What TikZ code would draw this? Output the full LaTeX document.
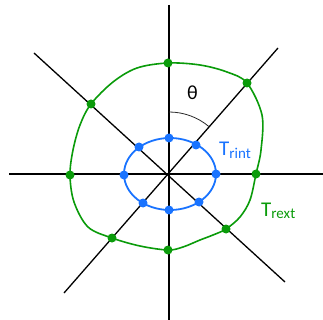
\documentclass[tikz,border=0pt]{standalone}
\usepackage{fontspec}
\setmainfont{Carlito}
\definecolor{grn}{RGB}{10,155,10}
\definecolor{blu}{RGB}{25,115,255}
\definecolor{arcgray}{RGB}{40,40,40}
\tikzset{
  gdot/.style={circle,fill=grn,inner sep=0pt,minimum size=9pt},
  bdot/.style={circle,fill=blu,inner sep=0pt,minimum size=9pt},
  axis/.style={line width=2pt,black},
  diag/.style={line width=1.3pt,black},
  lbl/.style={inner sep=0pt,anchor=base west},
}
\newcommand{\subtxt}[1]{\raisebox{-0.12em}{\fontsize{15pt}{15pt}\selectfont #1}}
\begin{document}
\begin{tikzpicture}[x=1pt,y=-1pt]
\useasboundingbox (0,0) rectangle (323,320);
% axes
\coordinate (vt) at (169,5);
\coordinate (vb) at (169,320);
\coordinate (hl) at (9,174);
\coordinate (hr) at (323,174);
\coordinate (ne) at (278,48);
\coordinate (sw) at (64,293);
\coordinate (nw) at (34,53);
\coordinate (se) at (285,282);
\draw[axis] (vt) -- (vb);
\draw[axis] (hl) -- (hr);
\draw[diag] (sw) -- (ne);
\draw[diag] (nw) -- (se);
% theta arc
\draw[arcgray,line width=0.8pt] (169,112) arc[start angle=90,end angle=50,radius=62pt];
% blue ellipse
\draw[blu,line width=1.8pt] (170,174) ellipse [x radius=46pt,y radius=36pt];
% green curve
\draw[grn,line width=1.6pt] plot[smooth cycle,tension=0.55] coordinates {
 (168,63) (200,65) (227,72) (247,83) (262,115) (261,150) (256,174) (250,200)
 (240,217) (226,229) (213,235) (200,240) (183,247) (168,250) (140,246)
 (112,238) (88,227) (74,202) (70,175) (73,150) (80,125) (91,104) (113,82) (137,68)};
% dots
\node[gdot] (g1) at (168,63) {};
\node[gdot] (g2) at (247,83) {};
\node[gdot] (g3) at (256,174) {};
\node[gdot] (g4) at (226,229) {};
\node[gdot] (g5) at (168,250) {};
\node[gdot] (g6) at (112,238) {};
\node[gdot] (g7) at (70,175) {};
\node[gdot] (g8) at (91,104) {};
\node[bdot] (b1) at (169,138) {};
\node[bdot] (b2) at (196,145) {};
\node[bdot] (b3) at (216,174) {};
\node[bdot] (b4) at (199,202) {};
\node[bdot] (b5) at (169,210) {};
\node[bdot] (b6) at (143,203) {};
\node[bdot] (b7) at (124,175) {};
\node[bdot] (b8) at (139,147) {};
% labels
\node[lbl,font=\fontsize{20pt}{20pt}\selectfont] (th) at (187,100) {θ};
\node[lbl,text=blu,font=\fontsize{21pt}{21pt}\selectfont] (ti) at (219,156) {T\subtxt{rint}};
\node[lbl,text=grn,font=\fontsize{21pt}{21pt}\selectfont] (te) at (261,216) {T\subtxt{rext}};
\end{tikzpicture}
\end{document}
